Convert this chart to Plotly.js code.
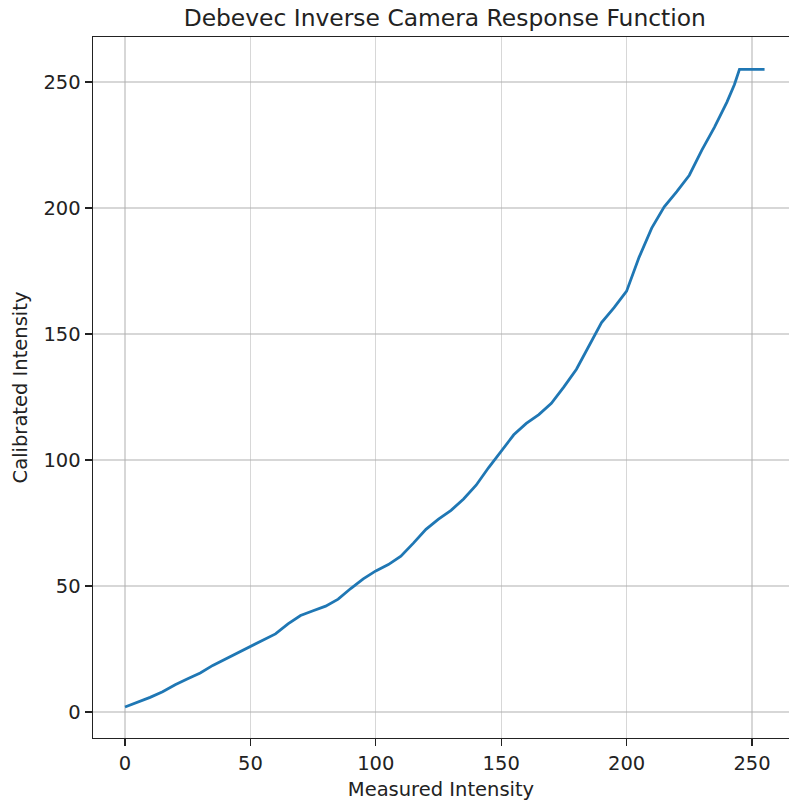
<!DOCTYPE html>
<html>
<head>
<meta charset="utf-8">
<script src="https://cdn.plot.ly/plotly-3.0.1.min.js"></script>
<style>
  html, body { margin: 0; padding: 0; background: #fff; }
  #chart { width: 789px; height: 802px; }
</style>
</head>
<body>
<div id="chart"></div>
<script>
// Measured pixel intensity (input) and the recovered calibrated intensity
const measured = [0, 5, 10, 15, 20, 25, 30, 35, 40, 45, 50, 55, 60, 65, 70, 75, 80, 85, 90, 95,
  100, 105, 110, 115, 120, 125, 130, 135, 140, 145, 150, 155, 160, 165, 170, 175, 180, 185, 190, 195,
  200, 205, 210, 215, 220, 225, 230, 235, 240, 243, 245, 250, 255];
const calibrated = [2, 3.8, 5.8, 8, 10.8, 13.2, 15.5, 18.5, 21, 23.5, 26, 28.5, 31, 35, 38.3, 40.2, 42, 44.8, 49, 52.8,
  56, 58.5, 61.8, 67, 72.5, 76.5, 80, 84.5, 90, 97, 103.5, 110, 114.5, 118, 122.5, 129, 136, 145, 154.5, 160.5,
  167, 180.5, 192, 200.5, 206.5, 213, 223, 232, 242, 249, 255, 255, 255];

const xTicks = [0, 50, 100, 150, 200, 250];
const yTicks = [0, 50, 100, 150, 200, 250];

const FONT = 'DejaVu Sans, Liberation Sans, sans-serif';

const trace = {
  x: measured,
  y: calibrated,
  type: 'scatter',
  mode: 'lines',
  line: { color: '#1f77b4', width: 2.8 },
  hoverinfo: 'x+y'
};

const axisCommon = {
  showgrid: true,
  gridcolor: 'rgba(176,176,176,0.5)',
  gridwidth: 1.4,
  zeroline: false,
  showline: true,
  linecolor: '#222',
  linewidth: 1.4,
  ticks: 'outside',
  ticklen: 7,
  tickwidth: 1.4,
  tickcolor: '#222',
  tickfont: { family: FONT, size: 19.5, color: '#222' },
  tickmode: 'array'
};

const layout = {
  width: 789,
  height: 802,
  margin: { l: 93, r: 0, t: 37, b: 64 },
  paper_bgcolor: '#ffffff',
  plot_bgcolor: '#ffffff',
  showlegend: false,
  title: {
    text: 'Debevec Inverse Camera Response Function',
    font: { family: FONT, size: 23.4, color: '#222' },
    xref: 'paper', x: 0.5054, xanchor: 'center',
    yref: 'container', y: 1 - 17.5 / 802, yanchor: 'middle'
  },
  xaxis: Object.assign({}, axisCommon, {
    range: [-12.76, 264.75],
    tickvals: xTicks,
    ticktext: xTicks.map(String),
    mirror: true,
    title: { text: 'Measured Intensity', font: { family: FONT, size: 19.5, color: '#222' }, standoff: 8 }
  }),
  yaxis: Object.assign({}, axisCommon, {
    range: [-10.32, 267.86],
    tickvals: yTicks,
    ticktext: yTicks.map(String),
    mirror: false,
    title: { text: 'Calibrated Intensity', font: { family: FONT, size: 19.5, color: '#222' }, standoff: 10 }
  })
};

Plotly.newPlot('chart', [trace], layout, { displayModeBar: false, staticPlot: true });
</script>
</body>
</html>
